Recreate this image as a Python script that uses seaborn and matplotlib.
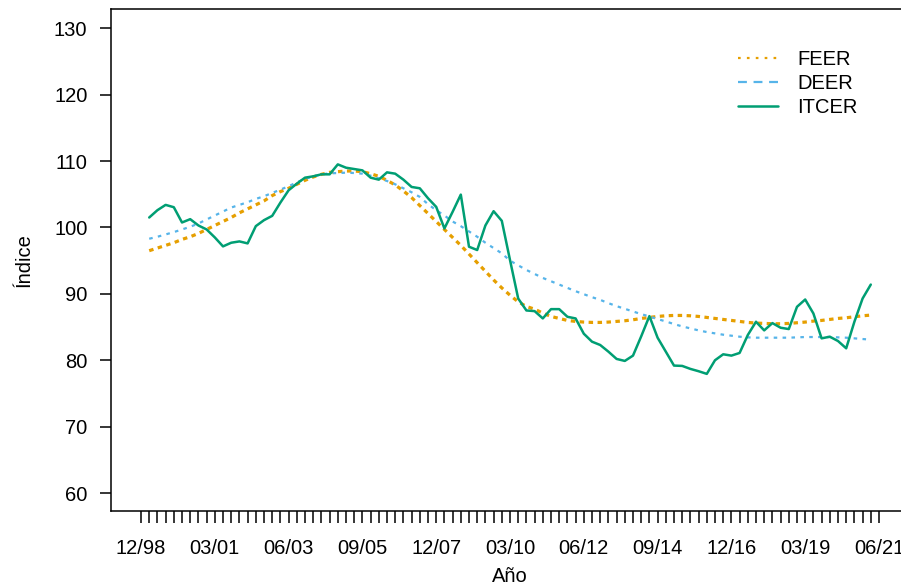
import numpy as np
import matplotlib
matplotlib.use("Agg")
import matplotlib.pyplot as plt
from matplotlib.lines import Line2D
import pandas as pd
import seaborn as sns

# quarters shown on the axis: 12/98 ... 06/21
quarters = pd.period_range("1998Q4", "2021Q2", freq="Q")
tick_labels = [q.strftime("%m/%y") for q in quarters]

# series values, one per quarter from 03/99 to 03/21
feer = [96.5, 96.9, 97.3, 97.7, 98.2, 98.6, 99.1, 99.7, 100.3, 100.9,
        101.5, 102.2, 102.8, 103.4, 104.0, 104.8, 105.4, 105.9, 106.5, 107.1,
        107.6, 108.0, 108.3, 108.4, 108.5, 108.5, 108.4, 108.1, 107.7, 107.1,
        106.4, 105.5, 104.5, 103.3, 102.1, 100.9, 99.7, 98.5, 97.3, 96.0,
        94.7, 93.4, 92.1, 90.9, 89.8, 88.8, 88.1, 87.7, 87.1, 86.6,
        86.3, 86.0, 85.85, 85.75, 85.7, 85.7, 85.75, 85.85, 85.95, 86.1,
        86.3, 86.45, 86.6, 86.7, 86.75, 86.75, 86.7, 86.6, 86.45, 86.3,
        86.15, 86.0, 85.85, 85.7, 85.6, 85.55, 85.5, 85.5, 85.55, 85.65,
        85.75, 85.9, 86.0, 86.15, 86.3, 86.4, 86.55, 86.7, 86.8]
deer = [98.3, 98.6, 98.95, 99.3, 99.7, 100.1, 100.6, 101.2, 101.8, 102.4,
        103.0, 103.4, 103.8, 104.3, 104.7, 105.2, 105.7, 106.2, 106.8, 107.3,
        107.7, 108.0, 108.15, 108.2, 108.25, 108.2, 108.1, 107.8, 107.4, 107.0,
        106.5, 105.9, 105.3, 104.6, 103.5, 102.6, 101.8, 100.9, 100.2, 99.4,
        98.6, 97.7, 96.9, 96.1, 95.0, 94.3, 93.6, 93.0, 92.4, 91.9,
        91.4, 90.9, 90.4, 89.95, 89.5, 89.1, 88.6, 88.15, 87.75, 87.35,
        86.95, 86.6, 86.2, 85.85, 85.45, 85.1, 84.8, 84.5, 84.25, 84.05,
        83.85, 83.7, 83.55, 83.45, 83.4, 83.4, 83.4, 83.4, 83.4, 83.45,
        83.5, 83.5, 83.5, 83.5, 83.45, 83.4, 83.3, 83.2, 83.1]
itcer = [101.5, 102.6, 103.4, 103.05, 100.75, 101.25, 100.3, 99.7, 98.5, 97.15,
         97.7, 97.9, 97.6, 100.2, 101.1, 101.75, 103.75, 105.6, 106.6, 107.5,
         107.7, 108.0, 108.0, 109.5, 109.0, 108.8, 108.6, 107.5, 107.2, 108.3,
         108.1, 107.2, 106.1, 105.9, 104.4, 103.1, 99.85, 102.35, 104.95, 97.1,
         96.6, 100.3, 102.45, 101.0, 95.1, 89.3, 87.5, 87.4, 86.3, 87.7,
         87.7, 86.55, 86.3, 84.0, 82.8, 82.3, 81.3, 80.2, 79.9, 80.7,
         83.6, 86.65, 83.4, 81.3, 79.2, 79.15, 78.7, 78.35, 77.95, 80.0,
         80.9, 80.7, 81.1, 83.8, 85.8, 84.5, 85.6, 84.9, 84.7, 88.05,
         89.15, 87.05, 83.3, 83.55, 82.9, 81.8, 85.8, 89.3, 91.4]

df = pd.DataFrame({"t": np.arange(1, len(itcer) + 1),
                   "FEER": feer, "DEER": deer, "ITCER": itcer})

sns.set_style("ticks")
plt.rcParams["font.family"] = ["Liberation Sans", "DejaVu Sans"]
plt.rcParams["font.size"] = 14.5
plt.rcParams["text.color"] = "black"
plt.rcParams["axes.labelcolor"] = "black"
plt.rcParams["xtick.color"] = "black"
plt.rcParams["ytick.color"] = "black"

c_feer, c_deer, c_itcer = "#E69F00", "#56B4E9", "#009E73"

fig = plt.figure(figsize=(9.01, 5.85), dpi=100)
ax = fig.add_axes([111 / 901, 1 - 511 / 585, 798 / 901, 502 / 585])

sns.lineplot(data=df, x="t", y="FEER", ax=ax, color=c_feer, lw=2.3,
             legend=False)
ax.lines[-1].set_dashes((1.4, 1.4))
sns.lineplot(data=df, x="t", y="DEER", ax=ax, color=c_deer, lw=1.6,
             legend=False)
ax.lines[-1].set_dashes((1.6, 2.4))
sns.lineplot(data=df, x="t", y="ITCER", ax=ax, color=c_itcer, lw=1.8,
             legend=False)

ax.set_xlim(-3.66, 93.66)
ax.set_ylim(57.3, 132.9)
ax.set_xticks(np.arange(len(quarters)))
ax.set_xticklabels([lab if i % 9 == 0 else "" for i, lab in enumerate(tick_labels)])
ax.set_yticks(np.arange(60, 131, 10))
ax.tick_params(axis="x", length=8.5, width=1.1, pad=12, labelsize=14.5, colors="black")
ax.tick_params(axis="y", length=8, width=1.1, pad=9, labelsize=14.5, colors="black")
for s in ["left", "bottom", "top", "right"]:
    ax.spines[s].set_linewidth(1.1)
    ax.spines[s].set_color("black")

ax.set_xlabel("Año", fontsize=14.5, va="center", color="black")
ax.xaxis.set_label_coords(0.5, -65 / 502)
ax.set_ylabel("Índice", fontsize=14.5, va="center", color="black")
ax.yaxis.set_label_coords(-87 / 798, 0.5)

handles = [Line2D([], [], color=c_feer, lw=1.6, dashes=(1.2, 2.8)),
           Line2D([], [], color=c_deer, lw=1.6, dashes=(4, 3)),
           Line2D([], [], color=c_itcer, lw=1.8)]
leg = ax.legend(handles, ["FEER", "DEER", "ITCER"], loc="upper left",
                bbox_to_anchor=((738 - 111) / 798, (511 - 50) / 502),
                frameon=False, borderpad=0, borderaxespad=0, handlelength=2.0,
                handletextpad=0.95, labelspacing=0.25, fontsize=14.5)
for txt in leg.get_texts():
    txt.set_color("black")

fig.savefig("out.png", dpi=100)
